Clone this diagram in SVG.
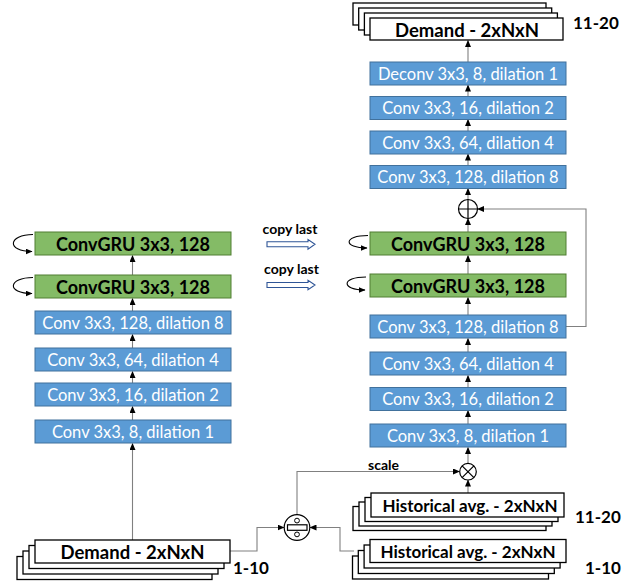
<svg xmlns="http://www.w3.org/2000/svg" width="631" height="588" viewBox="0 0 631 588">
<defs>
<marker id="ah" markerWidth="7" markerHeight="6" refX="6.5" refY="3" orient="auto" markerUnits="userSpaceOnUse">
<path d="M0,0 L7,3 L0,6 Z" fill="#000"/>
</marker>
<style>
.blue{fill:#5b9bd5;stroke:#41719c;stroke-width:1}
.green{fill:#84bb66;stroke:#507e32;stroke-width:1}
.white{fill:#fff;stroke:#000;stroke-width:1.3}
.bt{font-family:Lato,"Liberation Sans",sans-serif;font-size:16.5px;fill:#fff;text-anchor:middle;dominant-baseline:central}
.gt{font-family:Lato,"Liberation Sans",sans-serif;font-size:18px;font-weight:bold;fill:#000;text-anchor:middle;dominant-baseline:central}
.wt{font-family:Lato,"Liberation Sans",sans-serif;font-size:18.5px;font-weight:bold;fill:#000;text-anchor:middle;dominant-baseline:central}
.ht{font-family:Lato,"Liberation Sans",sans-serif;font-size:17px;font-weight:bold;fill:#000;text-anchor:middle;dominant-baseline:central}
.lab{font-family:Lato,"Liberation Sans",sans-serif;font-size:17px;font-weight:bold;fill:#000;dominant-baseline:central}
.sm{font-family:Lato,"Liberation Sans",sans-serif;font-size:14px;font-weight:bold;fill:#000;text-anchor:middle;dominant-baseline:central}
.ln{fill:none;stroke:#808080;stroke-width:1.1}
.op{fill:#fff;stroke:#000;stroke-width:1.2}
.hol{fill:#fff;stroke:#2f5597;stroke-width:1.1}
</style>
</defs>

<g id="connectors">
<path class="ln" d="M132.5,540 V443.5" marker-end="url(#ah)"/>
<path class="ln" d="M132.5,420 V406.5" marker-end="url(#ah)"/>
<path class="ln" d="M132.5,383 V371.5" marker-end="url(#ah)"/>
<path class="ln" d="M132.5,348 V334.5" marker-end="url(#ah)"/>
<path class="ln" d="M132.5,311 V298.5" marker-end="url(#ah)"/>
<path class="ln" d="M132.5,275 V255.5" marker-end="url(#ah)"/>
<path class="ln" d="M468,424 V410.5" marker-end="url(#ah)"/>
<path class="ln" d="M468,387.5 V375.5" marker-end="url(#ah)"/>
<path class="ln" d="M468,352 V338.5" marker-end="url(#ah)"/>
<path class="ln" d="M468,315 V297.5" marker-end="url(#ah)"/>
<path class="ln" d="M468,274 V255.5" marker-end="url(#ah)"/>
<path class="ln" d="M468,232 V218.5" marker-end="url(#ah)"/>
<path class="ln" d="M468,199.5 V188.5" marker-end="url(#ah)"/>
<path class="ln" d="M468,165.5 V154" marker-end="url(#ah)"/>
<path class="ln" d="M468,131 V119.5" marker-end="url(#ah)"/>
<path class="ln" d="M468,96.5 V85" marker-end="url(#ah)"/>
<path class="ln" d="M468,62 V40.5" marker-end="url(#ah)"/>
<path class="ln" d="M566,326.5 H586 V209 H477.5" marker-end="url(#ah)"/>
<path class="ln" d="M468,463.5 V447.5" marker-end="url(#ah)"/>
<path class="ln" d="M468,493 V480" marker-end="url(#ah)"/>
<path class="ln" d="M297,515 V471.5 H459.5" marker-end="url(#ah)"/>
<path class="ln" d="M230,551 H257 V527.5 H284" marker-end="url(#ah)"/>
<path class="ln" d="M354,551 H340 V527.5 H310" marker-end="url(#ah)"/>
<path d="M33,234.5 C8,234.5 6,251.5 32,251.5" fill="none" stroke="#000" stroke-width="1.1" marker-end="url(#ah)"/>
<path d="M33,277.5 C8,277.5 6,293.5 32,293.5" fill="none" stroke="#000" stroke-width="1.1" marker-end="url(#ah)"/>
<path d="M368,235.5 C343,235.5 343,248 367,248" fill="none" stroke="#000" stroke-width="1.1" marker-end="url(#ah)"/>
<path d="M366,277 C341,277 341,290 365,290" fill="none" stroke="#000" stroke-width="1.1" marker-end="url(#ah)"/>
<path class="hol" d="M267,241.8 H308 V239.5 L315,244.3 L308,249.1 V246.8 H267 Z"/>
<path class="hol" d="M267,282.5 H308 V280.2 L315,285 L308,289.8 V287.5 H267 Z"/>
</g>

<g id="copy-labels">
<text class="sm" x="290" y="228">copy last</text>
<text class="sm" x="291.5" y="268.5">copy last</text>
<text class="sm" x="383.5" y="464.5">scale</text>
</g>

<g id="l-gru1"><rect class="green" x="35" y="232" width="196" height="23"/><text class="gt" x="133" y="243.5">ConvGRU 3x3, 128</text></g>
<g id="l-gru2"><rect class="green" x="35" y="275" width="196" height="23"/><text class="gt" x="133" y="286.5">ConvGRU 3x3, 128</text></g>
<g id="l-conv128"><rect class="blue" x="35" y="311" width="196" height="23"/><text class="bt" x="133" y="322.5">Conv 3x3, 128, dilation 8</text></g>
<g id="l-conv64"><rect class="blue" x="35" y="348" width="196" height="23"/><text class="bt" x="133" y="359.5">Conv 3x3, 64, dilation 4</text></g>
<g id="l-conv16"><rect class="blue" x="35" y="383" width="196" height="23"/><text class="bt" x="133" y="394.5">Conv 3x3, 16, dilation 2</text></g>
<g id="l-conv8"><rect class="blue" x="35" y="420" width="196" height="23"/><text class="bt" x="133" y="431.5">Conv 3x3, 8, dilation 1</text></g>

<g id="r-deconv"><rect class="blue" x="370" y="62" width="196" height="23"/><text class="bt" x="468" y="73.5">Deconv 3x3, 8, dilation 1</text></g>
<g id="r-conv16a"><rect class="blue" x="370" y="96.5" width="196" height="23"/><text class="bt" x="468" y="108">Conv 3x3, 16, dilation 2</text></g>
<g id="r-conv64a"><rect class="blue" x="370" y="131" width="196" height="23"/><text class="bt" x="468" y="142.5">Conv 3x3, 64, dilation 4</text></g>
<g id="r-conv128a"><rect class="blue" x="370" y="165.5" width="196" height="23"/><text class="bt" x="468" y="177">Conv 3x3, 128, dilation 8</text></g>
<g id="r-gru1"><rect class="green" x="370" y="232" width="196" height="23"/><text class="gt" x="468" y="243.5">ConvGRU 3x3, 128</text></g>
<g id="r-gru2"><rect class="green" x="370" y="274" width="196" height="23"/><text class="gt" x="468" y="285.5">ConvGRU 3x3, 128</text></g>
<g id="r-conv128"><rect class="blue" x="370" y="315" width="196" height="23"/><text class="bt" x="468" y="326.5">Conv 3x3, 128, dilation 8</text></g>
<g id="r-conv64"><rect class="blue" x="370" y="352" width="196" height="23"/><text class="bt" x="468" y="363.5">Conv 3x3, 64, dilation 4</text></g>
<g id="r-conv16"><rect class="blue" x="370" y="387.5" width="196" height="23"/><text class="bt" x="468" y="399">Conv 3x3, 16, dilation 2</text></g>
<g id="r-conv8"><rect class="blue" x="370" y="424" width="196" height="23"/><text class="bt" x="468" y="435.5">Conv 3x3, 8, dilation 1</text></g>

<g id="plus"><circle class="op" cx="468" cy="209" r="9.5"/><path d="M458.5,209 H477.5 M468,199.5 V218.5" stroke="#000" stroke-width="1.2"/></g>
<g id="times"><circle class="op" cx="468" cy="471.7" r="8.3"/><path d="M462.1,465.8 L473.9,477.6 M473.9,465.8 L462.1,477.6" stroke="#000" stroke-width="1.2"/></g>
<g id="divide"><circle class="op" cx="297" cy="527.5" r="12.8"/><rect x="287.5" y="524.8" width="19.5" height="5.5" fill="#fff" stroke="#000" stroke-width="1.2"/><circle cx="297" cy="520.6" r="2.4" fill="#fff" stroke="#000" stroke-width="1"/><circle cx="297" cy="534.4" r="2.4" fill="#fff" stroke="#000" stroke-width="1"/></g>

<g id="out-demand">
<rect class="white" x="353" y="3" width="193" height="22"/>
<rect class="white" x="358.7" y="8" width="193" height="22"/>
<rect class="white" x="364.4" y="13" width="193" height="22"/>
<rect class="white" x="370" y="18" width="193" height="22"/>
<text class="wt" x="467" y="29.5">Demand - 2xNxN</text>
<text class="lab" x="573" y="22">11-20</text>
</g>

<g id="in-demand">
<rect class="white" x="17" y="556.5" width="195" height="23"/>
<rect class="white" x="23" y="551" width="195" height="23"/>
<rect class="white" x="29" y="545.5" width="195" height="23"/>
<rect class="white" x="35" y="540" width="195" height="23"/>
<text class="wt" x="132.5" y="551.5">Demand - 2xNxN</text>
<text class="lab" x="233" y="567">1-10</text>
</g>

<g id="hist-future">
<rect class="white" x="353" y="506.5" width="193" height="24"/>
<rect class="white" x="359" y="502" width="193" height="24"/>
<rect class="white" x="365" y="497.5" width="193" height="24"/>
<rect class="white" x="371" y="493" width="193" height="24"/>
<text class="ht" x="470" y="505">Historical avg. - 2xNxN</text>
<text class="lab" x="575" y="516">11-20</text>
</g>

<g id="hist-past">
<rect class="white" x="352.5" y="556" width="196" height="23"/>
<rect class="white" x="358.3" y="550.5" width="196" height="23"/>
<rect class="white" x="364.1" y="545" width="196" height="23"/>
<rect class="white" x="370" y="539.5" width="196" height="23"/>
<text class="ht" x="468" y="551">Historical avg. - 2xNxN</text>
<text class="lab" x="585" y="567">1-10</text>
</g>
</svg>
